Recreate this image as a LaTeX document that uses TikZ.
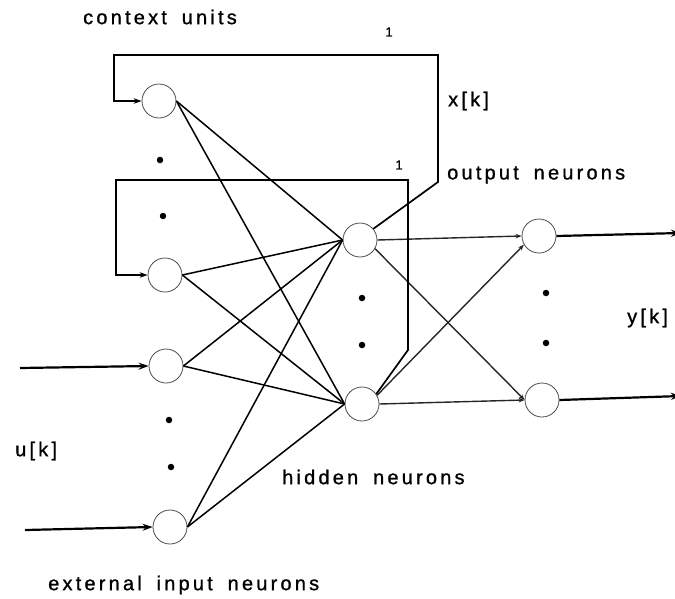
\documentclass[tikz,border=0pt]{standalone}
\usepackage{fontspec}
\setmainfont{Liberation Sans}[LetterSpace=16,WordSpace=1.7,FakeBold=1]
\usetikzlibrary{arrows.meta}
\begin{document}
\begin{tikzpicture}[x=1pt,y=-1pt,
  neuron/.style={circle,draw=black!70,line width=0.8pt,minimum size=34pt,inner sep=0pt},
  conn/.style={line width=1.5pt},
  fb/.style={line width=1.7pt},
  inarrow/.style={line width=2.2pt,-{Stealth[length=10pt,width=7pt]}},
  outarrow/.style={line width=1.4pt,black!85,-{Stealth[length=6pt,width=4.5pt,open]}},
  yarrow/.style={line width=2.2pt,-{Stealth[length=10pt,width=7pt]}},
  dotm/.style={circle,fill=black,inner sep=0pt,minimum size=6.5pt},
  lbl/.style={font=\fontsize{20}{22}\selectfont,inner sep=0pt,anchor=west},
  one/.style={font=\fontsize{13}{14}\selectfont,inner sep=0pt}]
\useasboundingbox (0,0) rectangle (675,598);
% neurons
\node[neuron] (C1) at (159,101) {};
\node[neuron] (C2) at (165,275) {};
\node[neuron] (I1) at (166,366) {};
\node[neuron] (I2) at (170,527) {};
\node[neuron] (H1) at (360,240) {};
\node[neuron] (H2) at (362,404) {};
\node[neuron] (O1) at (539,236) {};
\node[neuron] (O2) at (542,400) {};
% dots
\node[dotm] (d1) at (160,160) {};
\node[dotm] (d2) at (163,216) {};
\node[dotm] (d3) at (169,420) {};
\node[dotm] (d4) at (171,467) {};
\node[dotm] (d5) at (362,298) {};
\node[dotm] (d6) at (362,345) {};
\node[dotm] (d7) at (546,293) {};
\node[dotm] (d8) at (546,343) {};
% input to hidden
\foreach \s in {C1,C2,I1,I2}{
  \draw[conn] (\s.east) -- (H1.west);
  \draw[conn] (\s.east) -- (H2.west);
}
% hidden to output
\draw[outarrow] (H1.east) -- (O1.west);
\draw[outarrow] (H1.-30) -- (O2.west);
\draw[outarrow] (H2.east) -- (O2.west);
\draw[outarrow] (H2.30) -- (O1.-150);
% external inputs
\coordinate (u1) at (20,368);
\coordinate (u2) at (25,530);
\draw[inarrow] (u1) -- (I1.west);
\draw[inarrow] (u2) -- (I2.west);
% outputs
\coordinate (y1) at (681,233);
\coordinate (y2) at (681,396);
\draw[yarrow] (O1.east) -- (y1);
\draw[yarrow] (O2.east) -- (y2);
% feedback loops
\coordinate (f1a) at (438,182);
\coordinate (f1b) at (438,55);
\coordinate (f1c) at (114,55);
\draw[fb,-{Stealth[length=8pt,width=5.5pt]}] (H1.40) -- (f1a) -- (f1b) -- (f1c) |- (C1.west);
\coordinate (f2a) at (408,350);
\coordinate (f2b) at (408,180);
\coordinate (f2c) at (116,180);
\draw[fb,-{Stealth[length=8pt,width=5.5pt]}] (H2.35) -- (f2a) -- (f2b) -- (f2c) |- (C2.west);
\node[one] (one1) at (389,32) {1};
\node[one] (one2) at (399,165) {1};
% labels
\node[lbl] (tctx) at (83,17) {context units};
\node[lbl] (txk) at (448,101) {x[k]};
\node[lbl] (tout) at (447,175) {output neurons};
\node[lbl] (tyk) at (627,318) {y[k]};
\node[lbl] (tuk) at (15,451) {u[k]};
\node[lbl] (thid) at (282,477) {hidden neurons};
\node[lbl] (text) at (48,585) {external input neurons};
\end{tikzpicture}
\end{document}
